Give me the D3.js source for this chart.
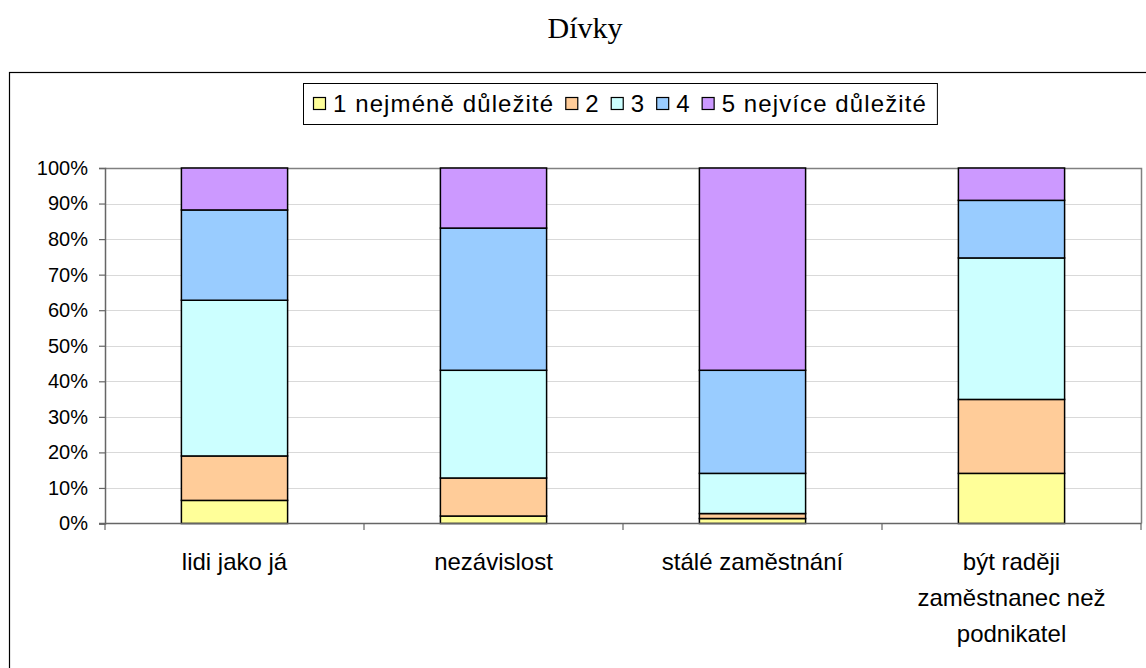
<!DOCTYPE html>
<html>
<head>
<meta charset="utf-8">
<script src="https://cdn.jsdelivr.net/npm/d3@7"></script>
<style>
body { margin: 0; background: #fff; }
svg { display: block; }
</style>
</head>
<body>
<svg width="1146" height="668"></svg>
<script>
// data (percent of answers)
var categories = ['lidi jako já', 'nezávislost', 'stálé zaměstnání', 'být raději zaměstnanec než podnikatel'];
var catLines = [['lidi jako já'], ['nezávislost'], ['stálé zaměstnání'], ['být raději', 'zaměstnanec než', 'podnikatel']];
var seriesNames = ['1 nejméně důležité', '2', '3', '4', '5 nejvíce důležité'];
var colors = ['#FFFF99', '#FFCC99', '#CCFFFF', '#99CCFF', '#CC99FF'];
var s1 = [6.5, 2.1, 1.4, 14.1];
var s2 = [12.5, 10.7, 1.4, 20.8];
var s3 = [43.8, 30.3, 11.3, 39.8];
var s4 = [25.4, 40.0, 29.0, 16.2];
var s5 = [11.8, 16.9, 56.9, 9.1];
var yTicks = [0, 10, 20, 30, 40, 50, 60, 70, 80, 90, 100];

var svg = d3.select('svg');

var rows = categories.map(function(c, i) {
    return {cat: c, s0: s1[i], s1: s2[i], s2: s3[i], s3: s4[i], s4: s5[i]};
});
var keys = ['s0', 's1', 's2', 's3', 's4'];
var stacked = d3.stack().keys(keys).offset(d3.stackOffsetExpand)(rows);

var x = d3.scaleBand().domain(categories).range([105, 1141]).paddingInner(0.59).paddingOuter(0.295);
var y = d3.scaleLinear().domain([0, 1]).range([523.5, 168]);

// outer chart frame
svg.append('rect')
    .attr('x', 9.5).attr('y', 72.5)
    .attr('width', 1150).attr('height', 620)
    .attr('fill', '#fff')
    .attr('stroke', '#000')
    .attr('stroke-width', 1.2);

svg.append('text')
    .attr('x', 585).attr('y', 38)
    .attr('text-anchor', 'middle')
    .attr('font-family', 'Liberation Serif, Times New Roman, serif')
    .attr('font-size', 30)
    .text('Dívky');

// gridlines
svg.append('g').selectAll('line')
    .data(yTicks.filter(function(t) { return t > 0 && t < 100; }))
    .enter().append('line')
    .attr('x1', 105).attr('x2', 1141)
    .attr('y1', function(d) { return Math.round(y(d / 100)) + 0.5; })
    .attr('y2', function(d) { return Math.round(y(d / 100)) + 0.5; })
    .attr('stroke', '#d9d9d9')
    .attr('stroke-width', 1);

// plot area border top / right
svg.append('path')
    .attr('d', 'M105,168.5H1141.5V523.5')
    .attr('fill', 'none')
    .attr('stroke', '#808080')
    .attr('stroke-width', 1.5);

// bars
svg.append('g').selectAll('g')
    .data(stacked)
    .enter().append('g')
    .attr('fill', function(d, i) { return colors[i]; })
    .selectAll('rect')
    .data(function(d) { return d; })
    .enter().append('rect')
    .attr('x', function(d) { return x(d.data.cat); })
    .attr('width', x.bandwidth())
    .attr('y', function(d) { return y(d[1]); })
    .attr('height', function(d) { return y(d[0]) - y(d[1]); })
    .attr('stroke', '#000')
    .attr('stroke-width', 1.5);

// y axis
var yAxis = d3.axisLeft(y)
    .tickValues(yTicks.map(function(t) { return t / 100; }))
    .tickFormat(d3.format('.0%'))
    .tickSize(6)
    .tickPadding(11);
var gy = svg.append('g').attr('transform', 'translate(105,0)').call(yAxis);
gy.select('.domain').attr('stroke', '#666').attr('stroke-width', 1.5);
gy.selectAll('.tick line').attr('stroke', '#666').attr('stroke-width', 1.2);
gy.selectAll('.tick text')
    .attr('font-family', 'Liberation Sans, Arial, sans-serif')
    .attr('font-size', 20)
    .attr('fill', '#000');

// x axis baseline and category ticks
var bounds = [105].concat(categories.map(function(c) { return x(c) + x.bandwidth() + x.step() * 0.295; }));
svg.append('line')
    .attr('x1', 99).attr('x2', 1141.5)
    .attr('y1', 523.5).attr('y2', 523.5)
    .attr('stroke', '#666').attr('stroke-width', 1.5);
svg.append('g').selectAll('line')
    .data(bounds)
    .enter().append('line')
    .attr('x1', function(d) { return d; }).attr('x2', function(d) { return d; })
    .attr('y1', 523.5).attr('y2', 530)
    .attr('stroke', '#666').attr('stroke-width', 1.2);

// category labels
var cl = svg.append('g').selectAll('text')
    .data(catLines)
    .enter().append('text')
    .attr('text-anchor', 'middle')
    .attr('font-family', 'Liberation Sans, Arial, sans-serif')
    .attr('font-size', 24)
    .attr('transform', function(d, i) {
        return 'translate(' + (x(categories[i]) + x.bandwidth() / 2) + ',570)';
    });
cl.selectAll('tspan')
    .data(function(d) { return d; })
    .enter().append('tspan')
    .attr('x', 0)
    .attr('y', function(d, i) { return i * 36; })
    .text(function(d) { return d; });

// legend
var lg = svg.append('g');
var lgBox = lg.append('rect')
    .attr('y', 83.5).attr('height', 41)
    .attr('fill', '#fff')
    .attr('stroke', '#000')
    .attr('stroke-width', 1);
var cx = 313;
seriesNames.forEach(function(name, i) {
    lg.append('rect')
        .attr('x', cx + 0.5).attr('y', 97.5)
        .attr('width', 12).attr('height', 12)
        .attr('fill', colors[i])
        .attr('stroke', '#000')
        .attr('stroke-width', 1.2);
    var t = lg.append('text')
        .attr('x', cx + 20).attr('y', 112)
        .attr('font-family', 'Liberation Sans, Arial, sans-serif')
        .attr('font-size', 24)
        .attr('letter-spacing', 1.1)
        .text(name);
    cx += 20 + t.node().getComputedTextLength() + 11;
});
lgBox.attr('x', 303.5).attr('width', cx - 303 - 1);
</script>
</body>
</html>
